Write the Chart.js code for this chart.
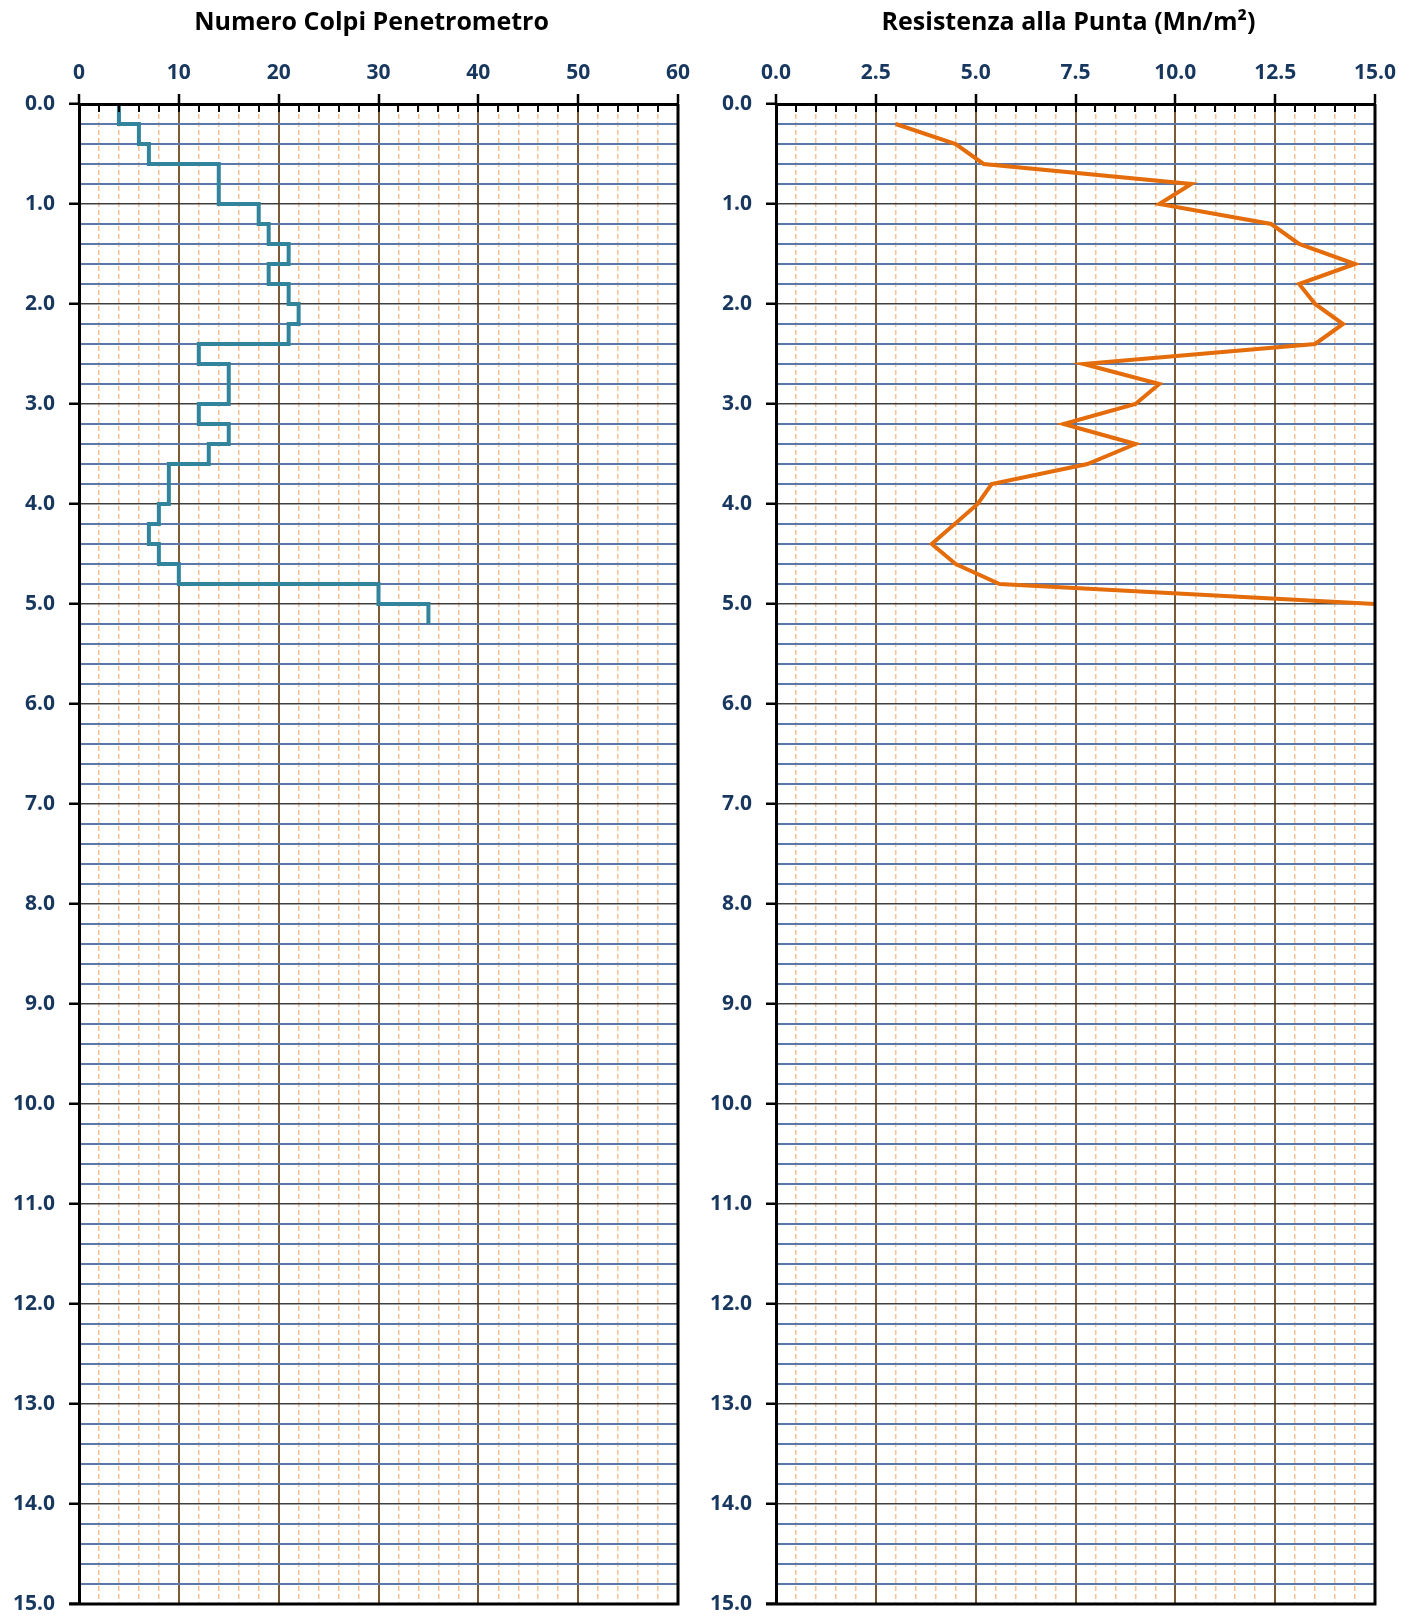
<!DOCTYPE html>
<html>
<head>
<meta charset="utf-8">
<script src="https://cdn.jsdelivr.net/npm/chart.js@4/dist/chart.umd.min.js"></script>
<style>
  html, body { margin: 0; padding: 0; background: #fff; }
  #wrap { position: relative; width: 1416px; height: 1620px; }
  canvas { position: absolute; top: 0; }
  #colpi { left: 0; }
  #punta { left: 697px; }
</style>
</head>
<body>
<div id="wrap">
  <canvas id="colpi" width="697" height="1620"></canvas>
  <canvas id="punta" width="719" height="1620"></canvas>
</div>
<script>
// data block
// numero colpi: value of each 0.2 m layer, last entry closes the last layer
const colpiDepth = [0.0, 0.2, 0.4, 0.6, 0.8, 1.0, 1.2, 1.4, 1.6, 1.8, 2.0, 2.2, 2.4,
                    2.6, 2.8, 3.0, 3.2, 3.4, 3.6, 3.8, 4.0, 4.2, 4.4, 4.6, 4.8, 5.0, 5.2];
const colpi = [4, 6, 7, 14, 14, 18, 19, 21, 19, 21, 22, 21, 12,
               15, 15, 12, 15, 13, 9, 9, 8, 7, 8, 10, 30, 35, 35];

// resistenza alla punta (Mn/m2)
const puntaDepth = [0.2, 0.4, 0.6, 0.8, 1.0, 1.2, 1.4, 1.6, 1.8, 2.0, 2.2, 2.4,
                    2.6, 2.8, 3.0, 3.2, 3.4, 3.6, 3.8, 4.0, 4.4, 4.6, 4.8, 5.0];
const punta = [3.0, 4.5, 5.2, 10.4, 9.6, 12.4, 13.1, 14.5, 13.1, 13.5, 14.2, 13.5,
               7.7, 9.6, 9.0, 7.2, 9.0, 7.8, 5.4, 5.05, 3.9, 4.5, 5.6, 15.0];

// axes
const depthMax = 15, depthStep = 0.2, depthLabelStep = 1;
const colpiMax = 60, colpiStep = 2, colpiLabelStep = 10, colpiDecimals = 0;
const puntaMax = 15, puntaStep = 0.5, puntaLabelStep = 2.5, puntaDecimals = 1;

const labelColor = '#17375E';
const labelFont = { family: 'Open Sans', weight: 'bold', size: 21 };
const isMultiple = (v, step) => Math.abs(v / step - Math.round(v / step)) < 1e-6;

// frame: right/bottom border, inner tick marks and the title
const frame = {
  id: 'frame',
  afterDraw(chart, args, opts) {
    const { ctx, chartArea: a, scales: { x } } = chart;
    ctx.save();
    ctx.strokeStyle = '#000';
    ctx.lineWidth = 3;
    ctx.beginPath();
    ctx.moveTo(a.right, a.top);
    ctx.lineTo(a.right, a.bottom);
    ctx.moveTo(a.left - 10, a.bottom);
    ctx.lineTo(a.right + 1.5, a.bottom);
    ctx.stroke();
    ctx.lineWidth = 2;
    ctx.beginPath();
    x.ticks.forEach(t => {
      const px = Math.round(x.getPixelForValue(t.value));
      ctx.moveTo(px, a.top);
      ctx.lineTo(px, a.top + 8);
    });
    ctx.stroke();
    ctx.fillStyle = '#000';
    ctx.font = 'bold 25px "Open Sans"';
    ctx.textAlign = 'center';
    ctx.textBaseline = 'alphabetic';
    ctx.fillText(opts.text, (a.left + a.right) / 2 - 7, 30);
    ctx.restore();
  }
};

function makeConfig(title, depths, values, color, stepped, xMax, xStep, xLabelStep, xDecimals, padRight) {
  const points = depths.map((d, i) => ({ x: values[i], y: d }));
  return {
    type: 'scatter',
    data: {
      datasets: [{
        data: points,
        showLine: true,
        stepped: stepped,
        borderColor: color,
        backgroundColor: color,
        borderWidth: 4,
        pointRadius: 0,
        fill: false,
        clip: false
      }]
    },
    options: {
      responsive: false,
      animation: false,
      layout: { padding: { top: 0, left: 0, right: padRight, bottom: 16 } },
      scales: {
        x: {
          type: 'linear',
          position: 'top',
          min: 0,
          max: xMax,
          afterFit: s => { s.height = 104; s.paddingLeft = 0; s.paddingRight = 0; },
          grid: {
            color: c => c.tick && isMultiple(c.tick.value, xLabelStep) ? '#7D5A36' : '#F8C294',
            lineWidth: c => c.tick && isMultiple(c.tick.value, xLabelStep) ? 2 : 1.5,
            tickColor: c => c.tick && isMultiple(c.tick.value, xLabelStep) ? '#000' : 'rgba(0,0,0,0)',
            tickLength: 10,
            tickWidth: 2.5
          },
          border: {
            color: '#000',
            width: 3,
            z: 1,
            dash: c => c.tick && !isMultiple(c.tick.value, xLabelStep) ? [5, 3] : []
          },
          ticks: {
            stepSize: xStep,
            autoSkip: false,
            maxRotation: 0,
            minRotation: 0,
            padding: 8,
            color: labelColor,
            font: labelFont,
            callback: v => isMultiple(v, xLabelStep) ? v.toFixed(xDecimals) : ''
          }
        },
        y: {
          type: 'linear',
          reverse: true,
          min: 0,
          max: depthMax,
          afterFit: s => { s.width = 79; s.paddingTop = 0; s.paddingBottom = 0; },
          grid: {
            color: c => c.tick && isMultiple(c.tick.value, depthLabelStep) ? '#404040' : '#5A78A8',
            lineWidth: c => c.tick && isMultiple(c.tick.value, depthLabelStep) ? 1.5 : 2,
            tickColor: c => c.tick && isMultiple(c.tick.value, depthLabelStep) ? '#000' : 'rgba(0,0,0,0)',
            tickLength: 10,
            tickWidth: 2.5
          },
          border: { color: '#000', width: 3, z: 1 },
          ticks: {
            stepSize: depthStep,
            autoSkip: false,
            padding: 14,
            color: labelColor,
            font: labelFont,
            callback: v => isMultiple(v, depthLabelStep) ? v.toFixed(1) : ''
          }
        }
      },
      plugins: {
        legend: { display: false },
        tooltip: { enabled: false },
        frame: { text: title }
      }
    },
    plugins: [frame]
  };
}

new Chart(document.getElementById('colpi'),
  makeConfig('Numero Colpi Penetrometro', colpiDepth, colpi, '#31849B', 'after',
             colpiMax, colpiStep, colpiLabelStep, colpiDecimals, 19));

new Chart(document.getElementById('punta'),
  makeConfig('Resistenza alla Punta (Mn/m²)', puntaDepth, punta, '#E46C0A', false,
             puntaMax, puntaStep, puntaLabelStep, puntaDecimals, 41));
</script>
</body>
</html>
